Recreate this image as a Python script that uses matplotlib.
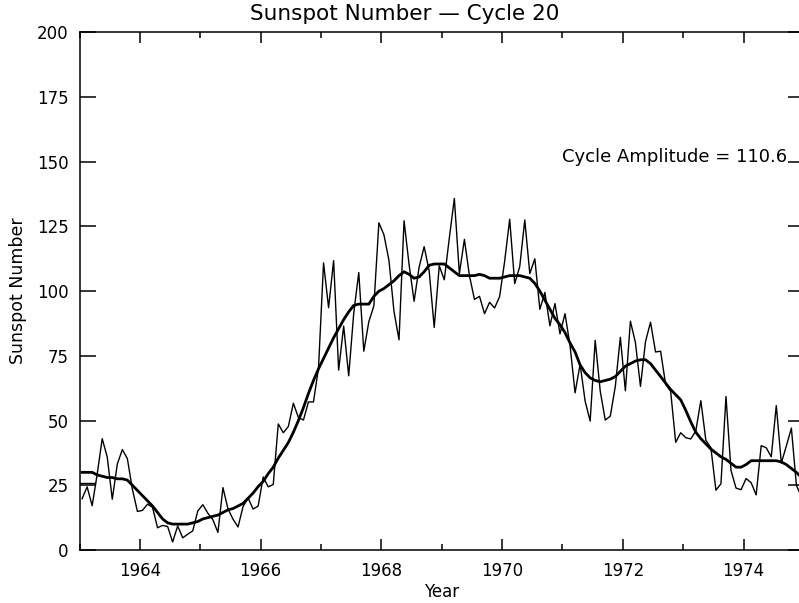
import numpy as np
import matplotlib
matplotlib.use("Agg")
import matplotlib.pyplot as plt
from matplotlib.ticker import MultipleLocator

# monthly sunspot numbers, Jan 1963 .. Dec 1974
monthly = [
    19.8, 24.4, 17.1, 29.3, 43.0, 35.9, 19.6, 33.2, 38.8, 35.3, 23.4, 14.9,   # 1963
    15.3, 17.7, 16.5, 8.6, 9.5, 9.1, 3.1, 9.3, 4.7, 6.1, 7.4, 15.1,           # 1964
    17.5, 14.2, 11.7, 6.8, 24.1, 15.9, 11.9, 8.9, 16.8, 20.1, 15.8, 17.0,     # 1965
    28.2, 24.4, 25.3, 48.7, 45.3, 47.7, 56.7, 51.2, 50.2, 57.2, 57.2, 70.4,   # 1966
    110.9, 93.6, 111.8, 69.5, 86.5, 67.3, 91.5, 107.2, 76.8, 88.2, 94.3, 126.4,  # 1967
    121.8, 111.9, 92.2, 81.2, 127.2, 110.3, 96.1, 109.3, 117.2, 107.7, 86.0, 109.8,  # 1968
    104.4, 120.5, 135.8, 106.8, 120.0, 106.0, 96.8, 98.0, 91.3, 95.7, 93.5, 97.9,  # 1969
    111.5, 127.8, 102.9, 109.5, 127.5, 106.8, 112.5, 93.0, 99.5, 86.6, 95.2, 83.5,  # 1970
    91.3, 79.0, 60.7, 71.8, 57.5, 49.8, 81.0, 61.4, 50.2, 51.7, 63.2, 82.2,   # 1971
    61.5, 88.4, 80.1, 63.2, 80.5, 88.0, 76.5, 76.8, 64.0, 61.3, 41.6, 45.3,   # 1972
    43.4, 42.9, 46.0, 57.7, 42.4, 39.5, 23.1, 25.6, 59.3, 30.7, 23.9, 23.3,   # 1973
    27.6, 26.0, 21.3, 40.3, 39.5, 36.0, 55.8, 33.6, 40.2, 47.1, 25.0, 20.5,   # 1974
]

# smoothed curve (thick line)
smoothed = [
    30, 30, 30, 29, 28.5, 28, 28, 27.5, 27.5, 27, 25, 23,
    21, 19, 17, 14.5, 12, 10.5, 10, 10, 10, 10, 10.5, 11,
    12, 12.5, 13, 13.5, 14.5, 15.5, 16, 17, 18, 20, 22, 24.5,
    26.5, 29.5, 32, 35.5, 38.5, 41.5, 45.5, 50, 55, 60.5, 65.5, 70,
    74, 78, 82, 85.5, 89, 92, 94.5, 95, 95, 95, 98, 100,
    101, 102.5, 104, 106, 107.5, 106.5, 105, 105.5, 107.5, 110, 110.5, 110.5,
    110.5, 109, 107.5, 106, 106, 106, 106, 106.5, 106, 105, 105, 105,
    105.5, 106, 106, 106, 105.5, 105, 103, 100, 96.5, 93, 89.5, 87,
    84, 80, 76.5, 71.5, 68.5, 66.5, 65.5, 65, 65.5, 66, 67, 69,
    71, 72, 73, 73.5, 73.5, 72, 69.5, 67, 64.5, 62, 60, 58,
    54, 49.5, 45.5, 43, 41, 39, 37.5, 36, 35, 33.5, 32, 32,
    33, 34.5, 34.5, 34.5, 34.5, 34.5, 34.5, 34, 33, 31.5, 30, 28,
]

# short flat piece at the left edge
edge_t = [1963.0, 1963.25]
edge_v = [25.9, 25.9]

amplitude = 110.6

t = 1963 + (np.arange(len(monthly)) + 0.5) / 12.0

fig = plt.figure(figsize=(7.99, 6.03), dpi=100)
ax = fig.add_axes([0.0996, 0.0879, 0.9066, 0.8585])

ax.plot(t, monthly, color='k', lw=1.0)
ax.plot(t, smoothed, color='k', lw=2.0)
ax.plot(edge_t, edge_v, color='k', lw=1.0)

ax.set_xlim(1963, 1975)
ax.set_ylim(0, 200)
ax.xaxis.set_major_locator(MultipleLocator(2))
ax.xaxis.set_minor_locator(MultipleLocator(1))
ax.yaxis.set_major_locator(MultipleLocator(25))

ax.tick_params(axis='x', which='major', direction='in', length=8, width=1.1,
               top=True, labelsize=12, pad=9)
ax.tick_params(axis='x', which='minor', direction='in', length=4.5, width=1.1, top=True)
ax.tick_params(axis='y', which='major', direction='in', length=11.5, width=1.1,
               right=True, labelsize=12, pad=8)
for s in ax.spines.values():
    s.set_linewidth(1.1)

# title sits left of the axes centre in the original
ax.set_title("Sunspot Number \u2014 Cycle 20", fontsize=15.5, x=0.4485, pad=9)
ax.set_xlabel("Year", fontsize=12, labelpad=2)
ax.set_ylabel("Sunspot Number", fontsize=12.5, labelpad=7)

ax.text(1971.0, 150, "Cycle Amplitude = %.1f" % amplitude, fontsize=13,
        ha='left', va='baseline')

fig.savefig("out.png", dpi=100)
